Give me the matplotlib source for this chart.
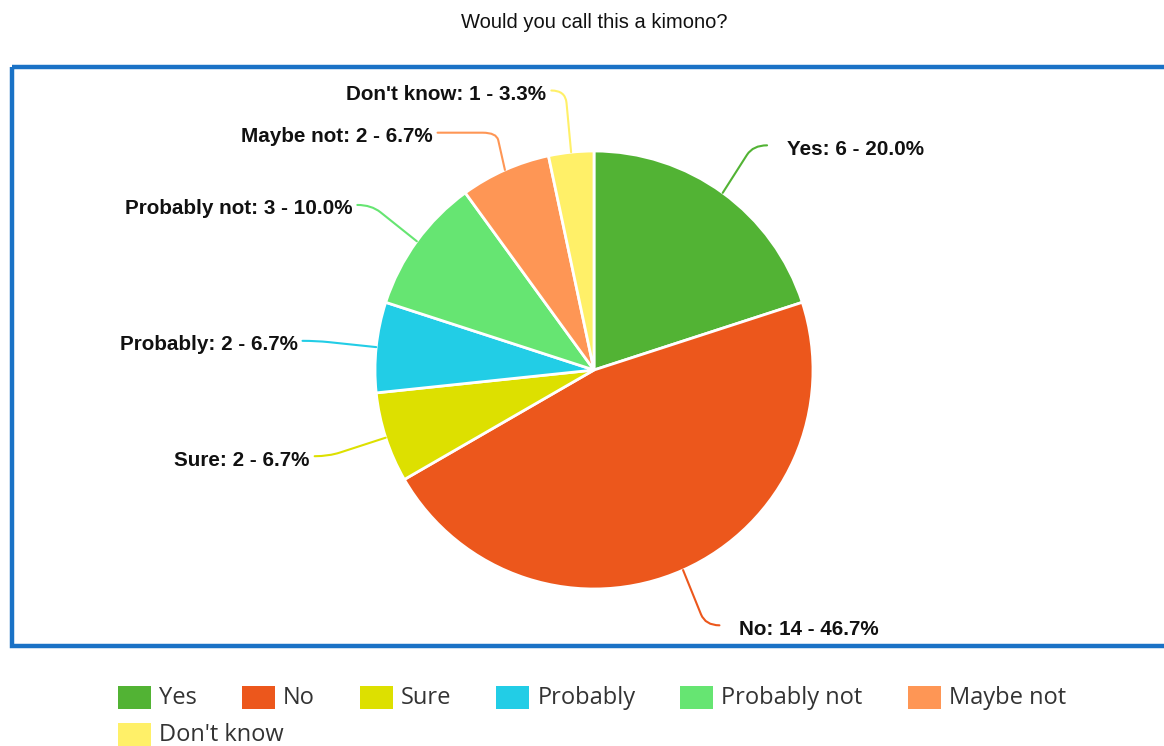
import numpy as np
import matplotlib
matplotlib.use("Agg")
import matplotlib.pyplot as plt
from matplotlib.patches import Rectangle, PathPatch
from matplotlib.path import Path

# Survey answers
categories = ["Yes", "No", "Sure", "Probably", "Probably not", "Maybe not", "Don't know"]
counts = [6, 14, 2, 2, 3, 2, 1]
colors = ["#52b334", "#ec571c", "#dde000", "#22cde6", "#66e572", "#fe9655", "#fff068"]
title = "Would you call this a kimono?"

W, H = 1164, 746
fig = plt.figure(figsize=(W / 100, H / 100), dpi=100)
ax = fig.add_axes([0, 0, 1, 1])

cx, cy, R = 594, 370, 219
total = sum(counts)

# y grows downward (pixel space) so a counter-clockwise pie in data space
# reads clockwise from 12 o'clock on screen
wedges, _ = ax.pie(counts, colors=colors, center=(cx, cy), radius=R,
                   startangle=270, counterclock=True,
                   wedgeprops=dict(edgecolor="white", linewidth=2))
ax.set_xlim(0, W)
ax.set_ylim(H, 0)
ax.set_aspect("equal")
ax.axis("off")

# frame around the plot area (right edge runs off the canvas)
ax.add_patch(Rectangle((12, 67), W + 20, 579, fill=False,
                       edgecolor="#1a72c6", linewidth=3.2, zorder=0))

ax.text(594, 22, title, ha="center", va="center", fontsize=14.5,
        family="Liberation Sans", color="#111111")

# slice labels with curved leader lines
label_font = dict(family="Liberation Sans", weight="bold", fontsize=14.9, color="#111111")
# small hand adjustments so neighbouring labels do not crowd each other
elbow_shift = {"Yes": (-2, -3), "No": (0, 5), "Probably not": (-1, -4),
               "Maybe not": (14, 13), "Don't know": (0, -7)}
tail = {"Maybe not": 45}
fracs = np.array(counts) / total
starts = np.concatenate([[0], np.cumsum(fracs)[:-1]])
for name, c, f, s, col in zip(categories, counts, fracs, starts, colors):
    theta = 2 * np.pi * (s + f / 2)  # clockwise from top
    ux, uy = np.sin(theta), -np.cos(theta)
    p0 = np.array([cx + R * ux, cy + R * uy])
    right = ux >= 0
    side = 1 if right else -1
    re = R + (60 if abs(uy) < 0.5 else 55)
    dx, dy = elbow_shift.get(name, (0, 0))
    elbow = np.array([cx + re * ux + dx, cy + re * uy + dy])
    q = p0 + (elbow - p0) * 0.8
    bend = elbow + np.array([side * 14, 0])
    end = bend + np.array([side * tail.get(name, 0), 0])
    verts = [p0, q, elbow, bend, end]
    codes = [Path.MOVETO, Path.LINETO, Path.CURVE3, Path.CURVE3, Path.LINETO]
    ax.add_patch(PathPatch(Path(verts, codes), fill=False, edgecolor=col,
                           linewidth=1.5, capstyle="round"))
    txt = f"{name}: {c} - {f * 100:.1f}%"
    gap = 20 if right else 5
    ax.text(end[0] + side * gap, end[1] + 4, txt, ha="left" if right else "right",
            va="center", **label_font)

# legend laid out in rows below the frame
fig.canvas.draw()
renderer = fig.canvas.get_renderer()
x, y = 118, 697
row_h = 37
for name, col in zip(categories, colors):
    t = ax.text(0, 0, name, fontsize=17.0, family="Open Sans", color="#333333",
                va="center", ha="left")
    bb = t.get_window_extent(renderer)
    tw = bb.width
    if x + 42 + tw > W - 20:
        x = 118
        y += row_h
    ax.add_patch(Rectangle((x, y - 11.5), 33, 23, facecolor=col, edgecolor="none"))
    t.set_position((x + 41, y + 1))
    x += 41 + tw + 45

fig.savefig("out.png", dpi=100)
